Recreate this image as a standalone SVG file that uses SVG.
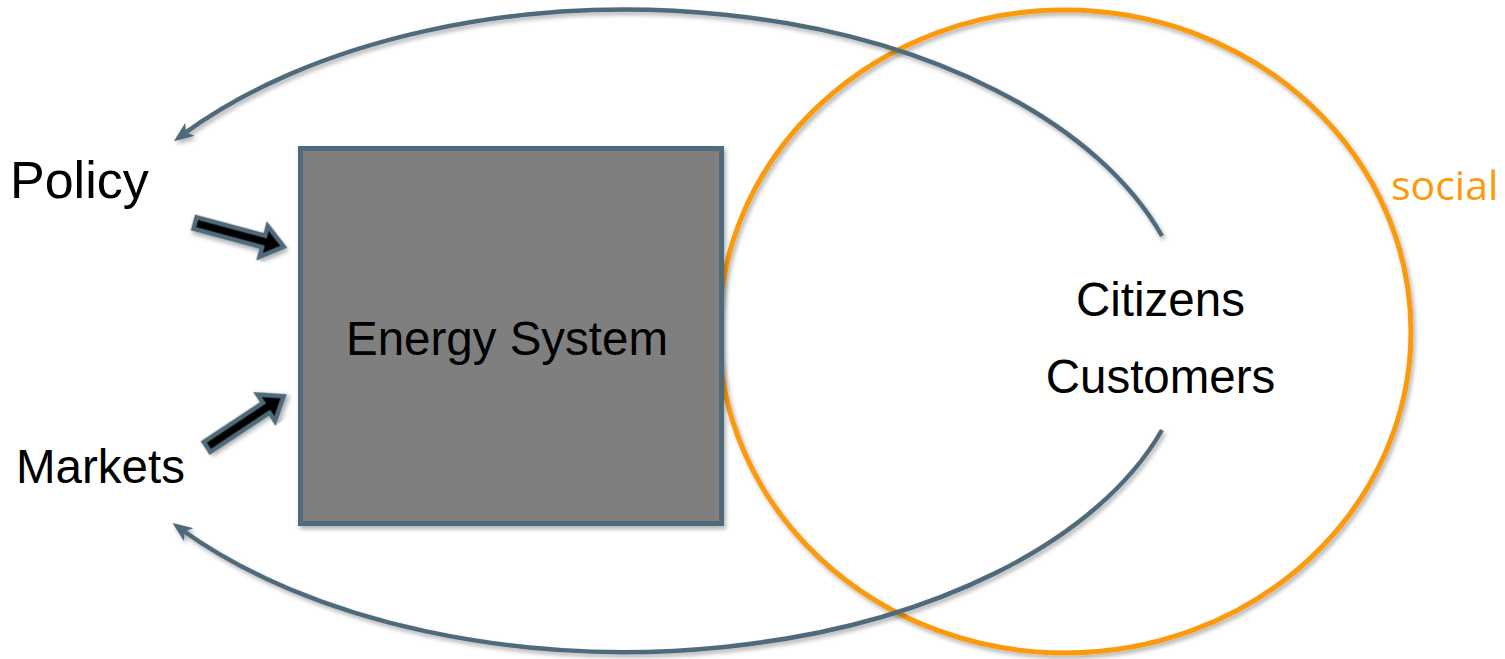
<svg xmlns="http://www.w3.org/2000/svg" width="1505" height="659" viewBox="0 0 1505 659">
<style>
  .lbl { font-family: "Liberation Sans", Arial, sans-serif; fill: #000; }
  .conn { fill: none; stroke: #4f6b7a; stroke-width: 4.5; }
  .block { fill: #000; stroke: #4f6b7a; stroke-width: 4.5; stroke-linejoin: miter; }
</style>
<defs>
  <filter id="sh" x="-10%" y="-10%" width="120%" height="120%">
    <feDropShadow dx="2" dy="3" stdDeviation="2" flood-color="#000" flood-opacity="0.3"/>
  </filter>
  <marker id="ah" viewBox="0 0 20 16" refX="8" refY="8" markerWidth="20" markerHeight="16" markerUnits="userSpaceOnUse" orient="auto">
    <path d="M0,0 L20,8 L0,16 L5,8 Z" fill="#4f6b7a"/>
  </marker>
  <marker id="ah2" viewBox="0 0 18 16" refX="16" refY="8" markerWidth="18" markerHeight="16" markerUnits="userSpaceOnUse" orient="auto-start-reverse">
    <path d="M0,0 L18,8 L0,16 Z" fill="#4f6b7a"/>
  </marker>
</defs>
<rect width="1505" height="659" fill="#fff"/>

<g id="social-circle">
  <ellipse cx="1065" cy="331.5" rx="346" ry="321.5" fill="none" stroke="#fb9a0a" stroke-width="5" filter="url(#sh)"/>
  <text x="1391" y="200" font-size="41" style="fill:#fb9a0a;font-family:'Open Sans',sans-serif">social</text>
</g>

<g id="energy-system">
  <rect x="300.5" y="148.5" width="421" height="375" fill="#7f7f7f" stroke="#4f6b7a" stroke-width="5" filter="url(#sh)"/>
  <text class="lbl" x="507" y="355" font-size="47.5" text-anchor="middle">Energy System</text>
</g>

<g id="policy">
  <text class="lbl" x="10" y="198" font-size="52">Policy</text>
</g>

<g id="markets">
  <text class="lbl" x="16" y="483" font-size="47.5">Markets</text>
</g>

<g id="citizens">
  <text class="lbl" x="1160.5" y="316" font-size="47.5" text-anchor="middle">Citizens</text>
  <text class="lbl" x="1160.5" y="393" font-size="47.5" text-anchor="middle">Customers</text>
</g>

<g id="connectors">
  <path class="conn" d="M1162,236 A565,330 0 0 0 183.5,134.1" marker-end="url(#ah)" filter="url(#sh)"/>
  <path class="conn" d="M1162,430 A565,322 0 0 1 182.2,530" marker-end="url(#ah)" filter="url(#sh)"/>
  <line class="conn" x1="755" y1="337" x2="1001" y2="337" marker-start="url(#ah2)" marker-end="url(#ah2)" filter="url(#sh)"/>
  <polygon class="block" transform="translate(195,223) rotate(15)" points="0,-6 71,-6 71,-16 92,0 71,16 71,6 0,6" filter="url(#sh)"/>
  <polygon class="block" transform="translate(207,447) rotate(-33.5)" points="0,-6 71,-6 71,-16 92,0 71,16 71,6 0,6" filter="url(#sh)"/>
</g>
</svg>
